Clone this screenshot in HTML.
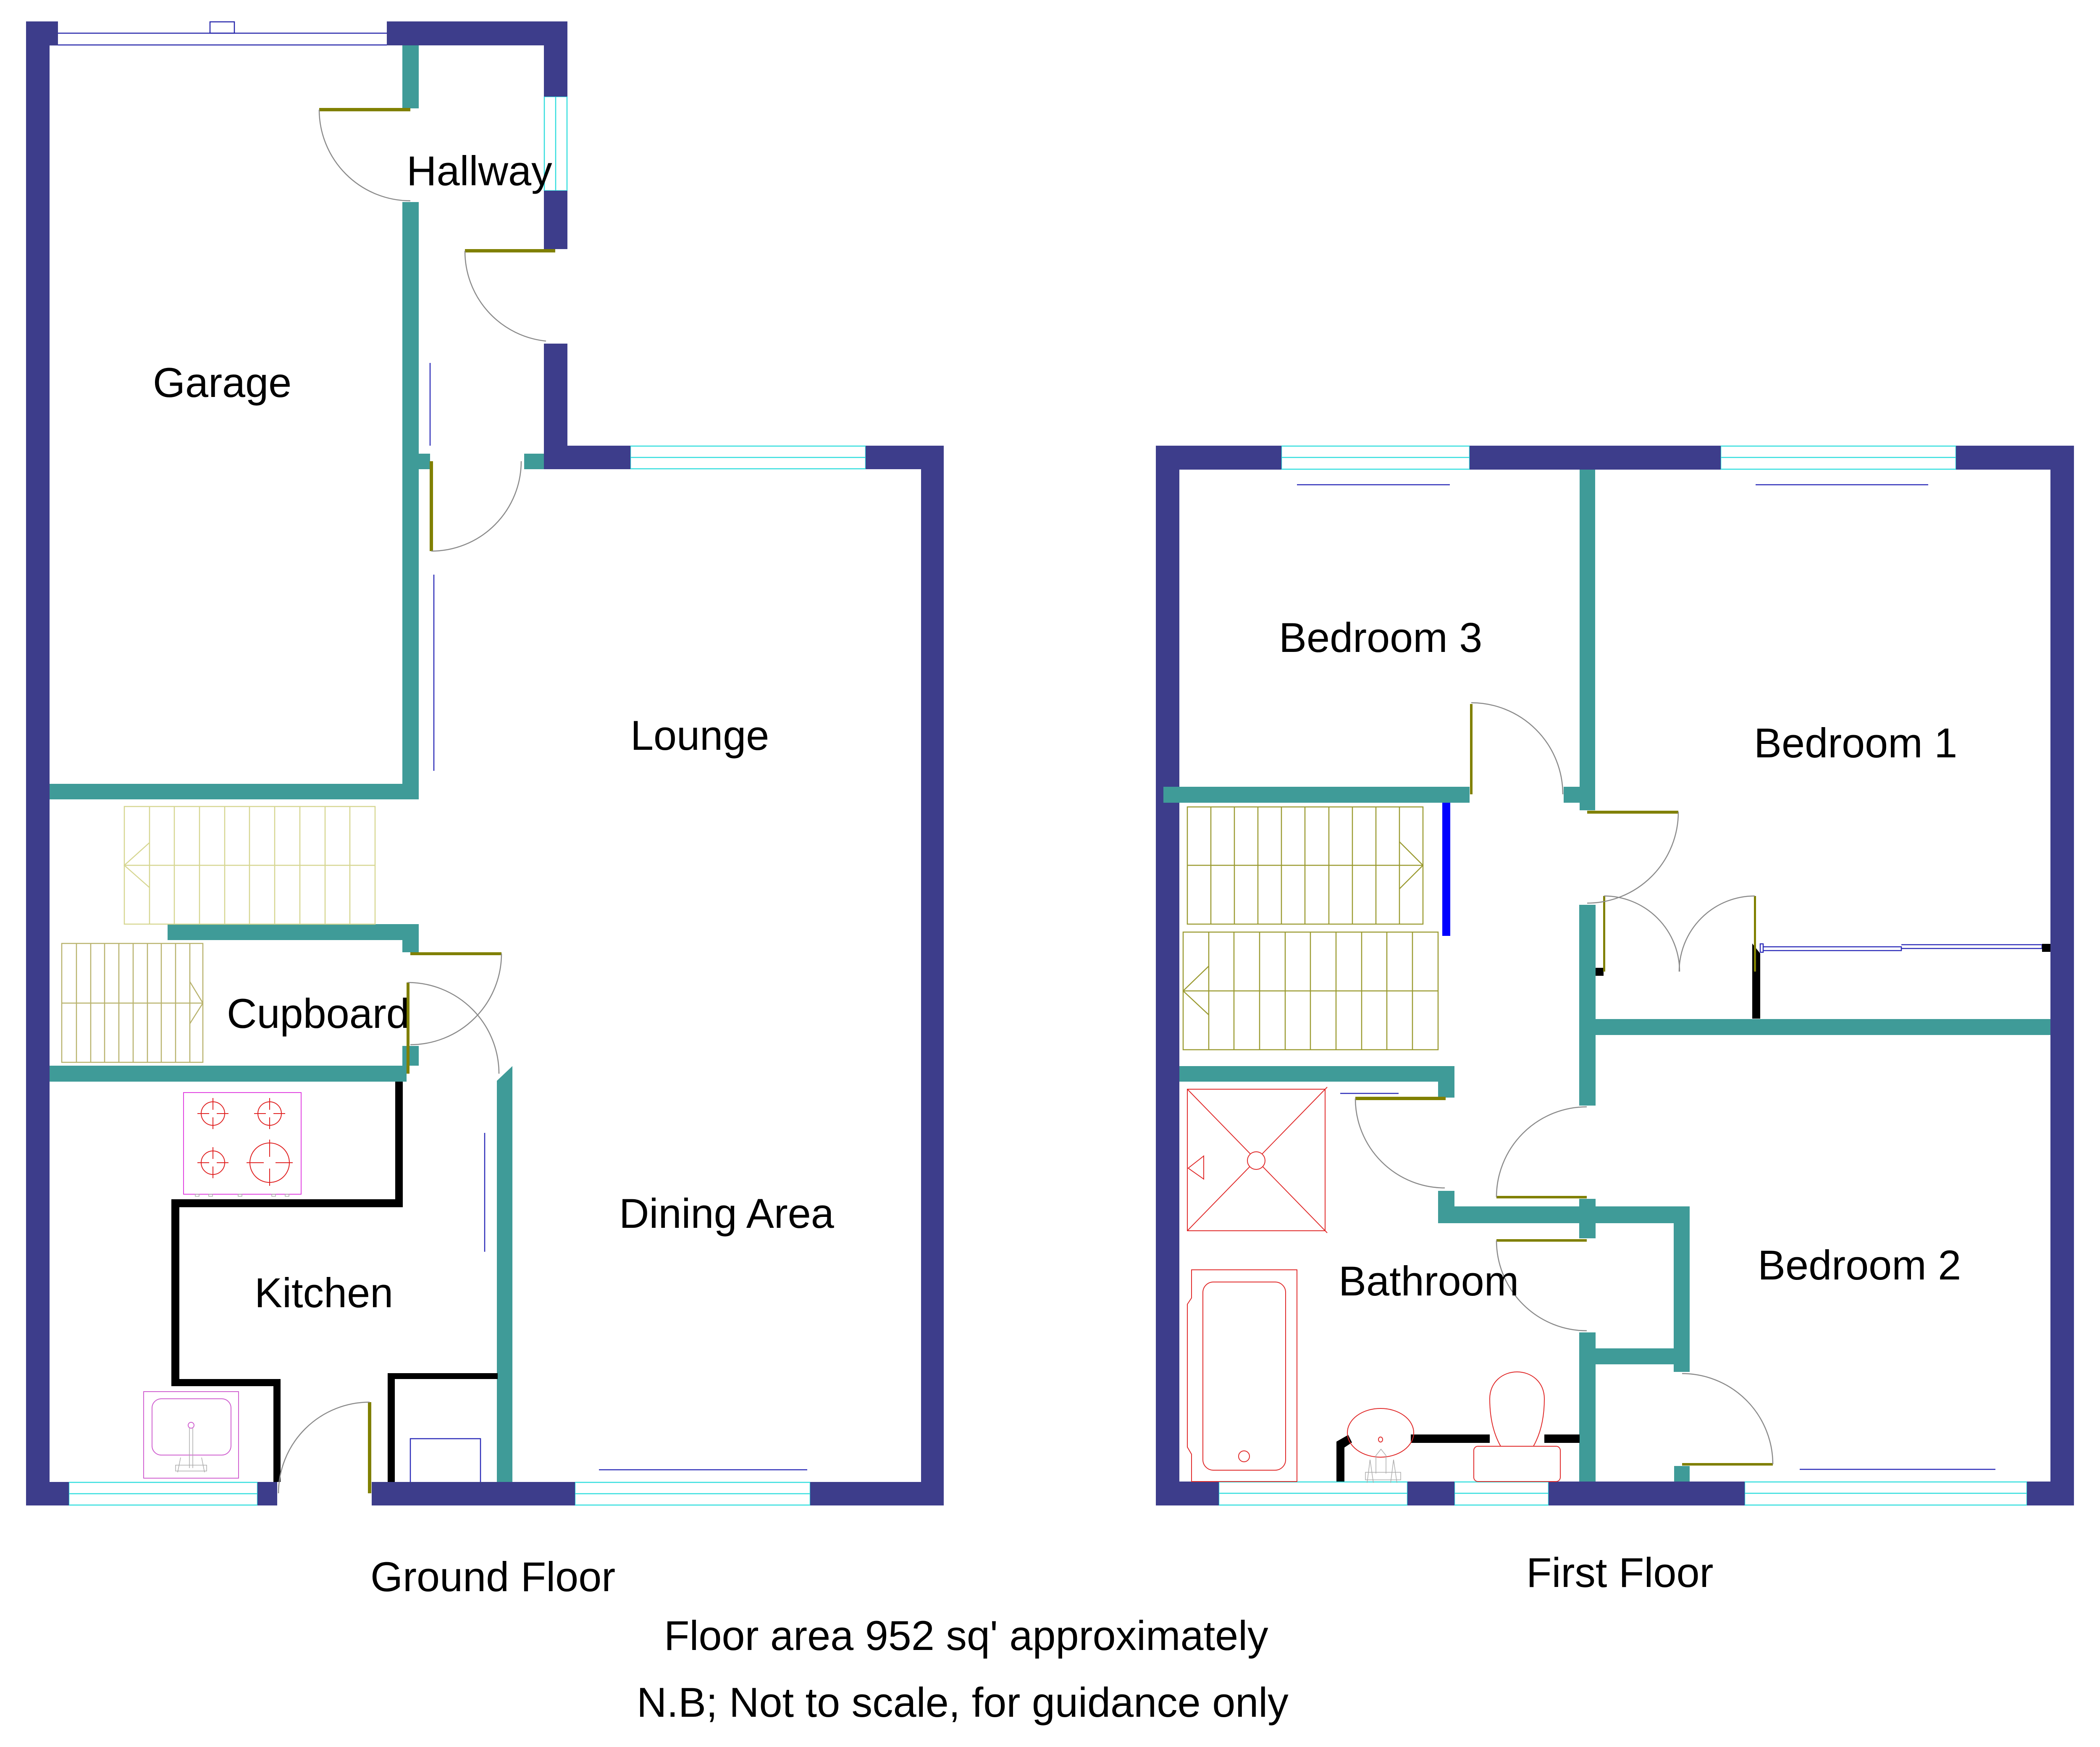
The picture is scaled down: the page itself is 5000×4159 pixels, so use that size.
<!DOCTYPE html>
<html>
<head>
<meta charset="utf-8">
<style>
html,body{margin:0;padding:0;background:#fff;}
svg{display:block;}
text{font-family:"Liberation Sans",Arial,sans-serif;font-size:99px;fill:#000;}
</style>
</head>
<body>
<svg width="5000" height="4159" viewBox="0 0 5000 4159" xmlns="http://www.w3.org/2000/svg">
<rect x="0" y="0" width="5000" height="4159" fill="#fff"/>

<!-- ===== WINDOWS (cyan) ===== -->
<g stroke="#30dede" stroke-width="2.5" fill="none">
  <path d="M1501,1062H2061M1501,1089H2061M1501,1116H2061M1501,1061V1117M2061,1061V1117"/>
  <path d="M1296,230V454M1323,230V454M1350,230V454M1295,230H1351M1295,454H1351"/>
  <path d="M164,3529H613M164,3556H613M164,3583H613M164,3528V3584M613,3528V3584"/>
  <path d="M1369,3529H1929M1369,3556H1929M1369,3583H1929M1369,3528V3584M1929,3528V3584"/>
  <path d="M3051,1062H3499M3051,1089H3499M3051,1117H3499M3051,1061V1118M3499,1061V1118"/>
  <path d="M4097,1062H4657M4097,1089H4657M4097,1117H4657M4097,1061V1118M4657,1061V1118"/>
  <path d="M2902,3528H3351M2902,3555H3351M2902,3583H3351M2902,3527V3584M3351,3527V3584"/>
  <path d="M3463,3528H3687M3463,3555H3687M3463,3583H3687M3463,3527V3584M3687,3527V3584"/>
  <path d="M4154,3528H4826M4154,3555H4826M4154,3583H4826M4154,3527V3584M4826,3527V3584"/>
</g>

<!-- garage door -->
<g stroke="#2424aa" stroke-width="2.5" fill="none">
  <path d="M138,79H921M118,107H921"/>
  <rect x="500" y="52" width="58" height="27"/>
</g>

<!-- thin blue lines -->
<g stroke="#2a2ab8" stroke-width="2.5" fill="none">
  <path d="M1024,864V1061"/>
  <path d="M1033,1368V1835"/>
  <path d="M1426,3499H1922"/>
  <path d="M1154,2697V2980"/>
  <path d="M977,3528V3425H1144V3528"/>
  <path d="M3088,1154H3452"/>
  <path d="M4180,1154H4591"/>
  <path d="M4285,3498H4751"/>
  <path d="M3191,2603H3330"/>
  <rect x="4191" y="2247" width="7" height="20"/>
  <path d="M4198,2254H4527V2263H4198M4527,2249H4862V2258H4527"/>
</g>

<!-- ===== NAVY WALLS ===== -->
<g fill="#3d3d8b">
  <rect x="62" y="51" width="56" height="3533"/>
  <rect x="62" y="51" width="76" height="57"/>
  <rect x="921" y="51" width="430" height="57"/>
  <rect x="1295" y="51" width="56" height="179"/>
  <rect x="1295" y="454" width="56" height="139"/>
  <rect x="1295" y="818" width="56" height="299"/>
  <rect x="1295" y="1061" width="206" height="56"/>
  <rect x="2061" y="1061" width="186" height="56"/>
  <rect x="2193" y="1061" width="54" height="2523"/>
  <rect x="62" y="3528" width="102" height="56"/>
  <rect x="613" y="3528" width="47" height="56"/>
  <rect x="885" y="3528" width="484" height="56"/>
  <rect x="1929" y="3528" width="318" height="56"/>

  <rect x="2752" y="1061" width="56" height="2523"/>
  <rect x="2752" y="1061" width="299" height="57"/>
  <rect x="3499" y="1061" width="598" height="57"/>
  <rect x="4657" y="1061" width="281" height="57"/>
  <rect x="4882" y="1061" width="56" height="2523"/>
  <rect x="2752" y="3527" width="150" height="57"/>
  <rect x="3351" y="3527" width="112" height="57"/>
  <rect x="3687" y="3527" width="467" height="57"/>
  <rect x="4826" y="3527" width="112" height="57"/>
</g>

<!-- ===== TEAL WALLS ===== -->
<g fill="#3f9b98">
  <rect x="958" y="108" width="39" height="150"/>
  <rect x="958" y="481" width="39" height="1422"/>
  <rect x="118" y="1866" width="879" height="37"/>
  <rect x="997" y="1080" width="27" height="37"/>
  <rect x="1248" y="1080" width="47" height="37"/>
  <rect x="399" y="2200" width="598" height="38"/>
  <rect x="958" y="2200" width="39" height="67"/>
  <rect x="958" y="2490" width="39" height="47"/>
  <rect x="118" y="2537" width="850" height="38"/>
  <polygon points="1183,2573 1220,2538 1220,3528 1183,3528"/>

  <rect x="3761" y="1118" width="37" height="811"/>
  <rect x="2770" y="1873" width="729" height="38"/>
  <rect x="3723" y="1873" width="38" height="38"/>
  <rect x="3760" y="2154" width="39" height="478"/>
  <rect x="3798" y="2426" width="1084" height="38"/>
  <rect x="2808" y="2538" width="655" height="37"/>
  <rect x="3424" y="2538" width="39" height="75"/>
  <rect x="3424" y="2835" width="39" height="77"/>
  <rect x="3424" y="2872" width="599" height="40"/>
  <rect x="3760" y="2854" width="39" height="94"/>
  <rect x="3985" y="2872" width="38" height="394"/>
  <rect x="3760" y="3172" width="39" height="355"/>
  <rect x="3799" y="3210" width="186" height="38"/>
  <rect x="3986" y="3490" width="37" height="37"/>
</g>

<rect x="3434" y="1911" width="19" height="317" fill="#0000ff"/>

<!-- ===== BLACK WALLS ===== -->
<g fill="#000">
  <rect x="941" y="2575" width="18" height="299"/>
  <rect x="408" y="2855" width="551" height="19"/>
  <rect x="408" y="2855" width="19" height="445"/>
  <rect x="408" y="3283" width="260" height="17"/>
  <rect x="651" y="3283" width="17" height="245"/>
  <rect x="923" y="3269" width="17" height="259"/>
  <rect x="923" y="3269" width="262" height="14"/>

  <rect x="3799" y="2304" width="19" height="19"/>
  <polygon points="4172,2246 4191,2270 4191,2425 4172,2425"/>
  <rect x="4862" y="2247" width="20" height="19"/>

  <rect x="3182" y="3432" width="19" height="95"/>
  <polygon points="3182,3432 3210,3416 3219,3434 3201,3446"/>
  <rect x="3359" y="3415" width="188" height="20"/>
  <rect x="3677" y="3415" width="84" height="20"/>
</g>

<!-- ===== STAIRS ===== -->
<g stroke="#d6d690" stroke-width="2.5" fill="none">
  <rect x="296" y="1920" width="597" height="280"/>
  <path d="M356,1920V2200M415,1920V2200M475,1920V2200M535,1920V2200M594,1920V2200M654,1920V2200M714,1920V2200M774,1920V2200M833,1920V2200M296,2060H893"/>
  <polyline points="356,2006 296,2060 356,2113"/>
</g>
<g stroke="#b8b26c" stroke-width="2.5" fill="none">
  <rect x="147" y="2246" width="336" height="283"/>
  <path d="M182,2246V2529M216,2246V2529M249,2246V2529M283,2246V2529M317,2246V2529M351,2246V2529M384,2246V2529M418,2246V2529M452,2246V2529M147,2388H483"/>
  <polyline points="452,2337 483,2388 452,2437"/>
</g>
<g stroke="#9a9a30" stroke-width="2.5" fill="none">
  <rect x="2827" y="1921" width="561" height="279"/>
  <path d="M2883,1921V2200M2939,1921V2200M2995,1921V2200M3051,1921V2200M3107,1921V2200M3164,1921V2200M3220,1921V2200M3276,1921V2200M3332,1921V2200M2827,2060H3388"/>
  <polyline points="3332,2004 3388,2060 3332,2116"/>
  <rect x="2817" y="2219" width="607" height="280"/>
  <path d="M2878,2219V2499M2938,2219V2499M2999,2219V2499M3060,2219V2499M3120,2219V2499M3181,2219V2499M3242,2219V2499M3302,2219V2499M3363,2219V2499M2817,2359H3424"/>
  <polyline points="2878,2300 2817,2359 2878,2416"/>
</g>

<!-- ===== KITCHEN FIXTURES ===== -->
<rect x="437" y="2601" width="280" height="242" fill="none" stroke="#e040e0" stroke-width="2"/>
<g stroke="#aaa" stroke-width="1.5" fill="none">
  <rect x="465" y="2843" width="9" height="5"/><rect x="497" y="2843" width="9" height="5"/>
  <rect x="567" y="2843" width="9" height="5"/><rect x="647" y="2843" width="9" height="5"/>
  <rect x="679" y="2843" width="9" height="5"/>
</g>
<g stroke="#e02020" stroke-width="2" fill="none">
  <circle cx="507" cy="2651" r="28"/>
  <path d="M470,2651H498M516,2651H544M507,2614V2642M507,2660V2688"/>
  <circle cx="642" cy="2651" r="28"/>
  <path d="M605,2651H633M651,2651H679M642,2614V2642M642,2660V2688"/>
  <circle cx="507" cy="2768" r="28"/>
  <path d="M470,2768H498M516,2768H544M507,2731V2759M507,2777V2805"/>
  <circle cx="642" cy="2768" r="47"/>
  <path d="M587,2768H628M656,2768H697M642,2713V2754M642,2782V2823"/>
</g>
<g stroke="#d060d0" stroke-width="2" fill="none">
  <rect x="342" y="3313" width="226" height="206"/>
  <rect x="362" y="3330" width="188" height="134" rx="22"/>
  <circle cx="455" cy="3393" r="7"/>
</g>
<g stroke="#aaa" stroke-width="1.5" fill="none">
  <path d="M451,3400V3495M459,3400V3495"/>
  <path d="M430,3470L423,3505M480,3470L487,3505"/>
  <rect x="418" y="3488" width="74" height="14"/>
</g>

<!-- ===== BATHROOM FIXTURES ===== -->
<g stroke="#e02828" stroke-width="2" fill="none">
  <rect x="2827" y="2593" width="328" height="337"/>
  <path d="M2827,2593L3160,2935M3160,2588L2827,2930"/>
  <circle cx="2991" cy="2763" r="21" fill="#fff"/>
  <polygon points="2866,2752 2829,2781 2866,2807"/>
  <path d="M2837,3023L3088,3023L3088,3527L2837,3527L2837,3462L2827,3445L2827,3105L2837,3090Z"/>
  <rect x="2864" y="3052" width="197" height="448" rx="25"/>
  <circle cx="2962" cy="3467" r="13"/>
  <ellipse cx="3287" cy="3411" rx="79" ry="58"/>
  <ellipse cx="3287" cy="3427" rx="5" ry="6"/>
  <path d="M3573,3443C3560,3420 3547,3385 3547,3330C3547,3290 3578,3266 3612,3266C3646,3266 3677,3290 3677,3330C3677,3385 3664,3420 3651,3443"/>
  <rect x="3509" y="3443" width="206" height="84" rx="10"/>
</g>
<g stroke="#aaa" stroke-width="1.5" fill="none">
  <path d="M3276,3508L3276,3465L3288,3450L3300,3465L3300,3508"/>
  <path d="M3262,3475L3255,3530M3262,3475L3270,3530M3318,3475L3311,3530M3318,3475L3326,3530"/>
  <rect x="3251" y="3505" width="84" height="18"/>
</g>

<!-- ===== DOORS (olive leaves) ===== -->
<g fill="#808000">
  <rect x="760" y="257" width="217" height="8"/>
  <rect x="1107" y="593" width="215" height="8"/>
  <rect x="1023" y="1098" width="8" height="214"/>
  <rect x="977" y="2267" width="217" height="7"/>
  <rect x="968" y="2339" width="7" height="217"/>
  <rect x="876" y="3338" width="8" height="217"/>

  <rect x="3500" y="1676" width="6" height="215"/>
  <rect x="3779" y="1930" width="217" height="7"/>
  <rect x="3817" y="2133" width="5" height="180"/>
  <rect x="4176" y="2133" width="5" height="180"/>
  <rect x="3227" y="2611" width="215" height="8"/>
  <rect x="3563" y="2847" width="215" height="6"/>
  <rect x="3563" y="2950" width="215" height="6"/>
  <rect x="4005" y="3483" width="216" height="6"/>
</g>

<!-- door swing arcs -->
<g stroke="#8a8a8a" stroke-width="2.5" fill="none">
  <path d="M760,261A217,217 0 0 0 977,478"/>
  <path d="M1107,597A215,215 0 0 0 1300,812"/>
  <path d="M1027,1312A214,214 0 0 0 1241,1098"/>
  <path d="M1194,2270A217,217 0 0 1 977,2487"/>
  <path d="M971,2339A217,217 0 0 1 1188,2556"/>
  <path d="M880,3338A217,217 0 0 0 663,3555"/>

  <path d="M3503,1673A218,218 0 0 1 3721,1891"/>
  <path d="M3996,1933A217,217 0 0 1 3779,2150"/>
  <path d="M3819,2133A180,180 0 0 1 3999,2313"/>
  <path d="M4178,2133A180,180 0 0 0 3998,2313"/>
  <path d="M3227,2615A213,213 0 0 0 3440,2828"/>
  <path d="M3778,2635A215,215 0 0 0 3563,2850"/>
  <path d="M3563,2953A215,215 0 0 0 3778,3168"/>
  <path d="M4221,3486A216,216 0 0 0 4005,3270"/>
</g>

<!-- ===== LABELS ===== -->
<text x="968" y="441">Hallway</text>
<text x="364" y="945">Garage</text>
<text x="1501" y="1785">Lounge</text>
<text x="540" y="2447">Cupboard</text>
<text x="1474" y="2923">Dining Area</text>
<text x="606" y="3112">Kitchen</text>

<text x="3045" y="1552">Bedroom 3</text>
<text x="4176" y="1803">Bedroom 1</text>
<text x="4185" y="3046">Bedroom 2</text>
<text x="3187" y="3084">Bathroom</text>

<text x="882" y="3788">Ground Floor</text>
<text x="3634" y="3778">First Floor</text>
<text x="1581" y="3928">Floor area 952 sq' approximately</text>
<text x="1516" y="4087">N.B; Not to scale, for guidance only</text>
</svg>
</body>
</html>
